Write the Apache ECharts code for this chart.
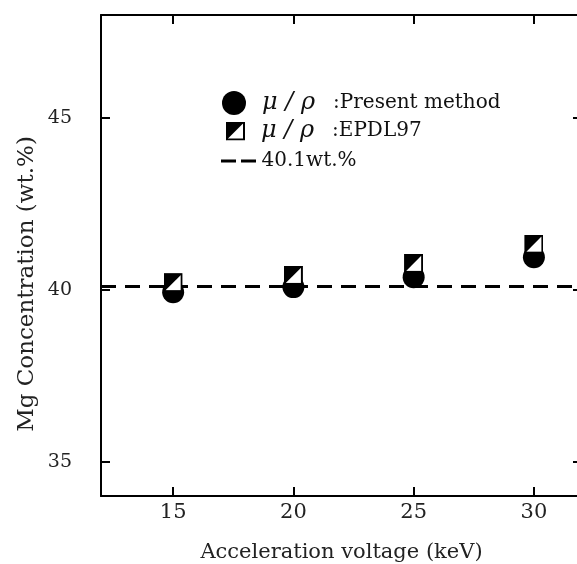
<!DOCTYPE html>
<html>
<head>
<meta charset="utf-8">
<script src="https://cdn.jsdelivr.net/npm/echarts@6/dist/echarts.min.js"></script>
<style>
html,body{margin:0;padding:0;background:#fff;}
#chart{width:577px;height:564px;}
</style>
</head>
<body>
<div id="chart"></div>
<script>
// ---- data ----
var voltages = [15, 20, 25, 30];
var presentMethod = [39.93, 40.08, 40.37, 40.95];
var epdl97 = [40.21, 40.42, 40.77, 41.33];
var refLevel = 40.1;
var refRange = [12, 32];
var xTicks = [15, 20, 25, 30];
var yTicks = [35, 40, 45];
var seriesNames = ['μ / ρ :Present method', 'μ / ρ :EPDL97', '40.1wt.%'];
var xTitle = 'Acceleration voltage (keV)';
var yTitle = 'Mg Concentration (wt.%)';

var FONT = 'DejaVu Serif';
var halfSquareSvg = "<svg xmlns='http://www.w3.org/2000/svg' width='19' height='19' viewBox='0 0 19 19'>" +
  "<rect x='1' y='1' width='17' height='17' fill='white' stroke='black' stroke-width='2'/>" +
  "<path d='M0 0 H19 L0 19 Z' fill='black'/></svg>";
var halfSquare = 'image://data:image/svg+xml;charset=utf-8,' + encodeURIComponent(halfSquareSvg);
var dashIcon = 'path://M0,0 H15 V3 H0 Z M20,0 H35 V3 H20 Z';

function pairs(xs, ys) { return xs.map(function (x, i) { return [x, ys[i]]; }); }

var rich = {
  g: { width: 11 },
  m: { fontFamily: FONT, fontStyle: 'italic', fontSize: 24, color: '#111', lineHeight: 26 },
  s: { width: 18 },
  t: { fontFamily: FONT, fontSize: 20, color: '#111', lineHeight: 26 },
  u: { fontFamily: FONT, fontSize: 20, color: '#111', lineHeight: 24 }
};
function legendFmt(name) {
  var i = name.indexOf(':');
  if (i < 0) return '{u|' + name + '}';
  return '{g| }{m|' + name.slice(0, i).trim() + '}{s| }{t|' + name.slice(i) + '}';
}

function tickStyle(vals) { return { show: true, inside: true, length: 9, customValues: vals, lineStyle: { color: '#000', width: 2 } }; }
function lineStyleAxis(show) { return { show: show, onZero: false, lineStyle: { color: '#000', width: 2 } }; }

var chart = echarts.init(document.getElementById('chart'));
chart.setOption({
  animation: false,
  backgroundColor: '#fff',
  grid: { left: 101, top: 15, width: 481, height: 481, containLabel: false, outerBoundsMode: 'none' },
  xAxis: [{
    type: 'value', min: 12, max: 32, position: 'bottom',
    axisLine: lineStyleAxis(true),
    axisTick: tickStyle(xTicks),
    axisLabel: { customValues: xTicks, margin: 6, fontFamily: FONT, fontSize: 21, color: '#222' },
    splitLine: { show: false },
    name: xTitle, nameLocation: 'middle', nameGap: 46,
    nameTextStyle: { fontFamily: FONT, fontSize: 21, color: '#222' }
  }, {
    type: 'value', min: 12, max: 32, position: 'top',
    axisLine: lineStyleAxis(true),
    axisTick: tickStyle(xTicks),
    axisLabel: { show: false }, splitLine: { show: false }
  }],
  yAxis: [{
    type: 'value', min: 34, max: 48, position: 'left',
    axisLine: lineStyleAxis(true),
    axisTick: tickStyle(yTicks),
    axisLabel: { customValues: yTicks, margin: 29, fontFamily: FONT, fontSize: 19, color: '#222' },
    splitLine: { show: false }
  }, {
    type: 'value', min: 34, max: 48, position: 'right',
    axisLine: lineStyleAxis(false),
    axisTick: tickStyle(yTicks),
    axisLabel: { show: false }, splitLine: { show: false }
  }],
  legend: [{
    data: [seriesNames[0]], orient: 'vertical', left: 217, top: 86,
    itemWidth: 24, itemHeight: 24, formatter: legendFmt, textStyle: { rich: rich }
  }, {
    data: [seriesNames[1]], orient: 'vertical', left: 221, top: 114,
    itemWidth: 19, itemHeight: 19, formatter: legendFmt, textStyle: { rich: rich }
  }, {
    data: [{ name: seriesNames[2], icon: dashIcon, itemStyle: { color: '#000' } }],
    orient: 'vertical', left: 216, top: 146,
    itemWidth: 36, itemHeight: 3, formatter: legendFmt, textStyle: { rich: rich }
  }],
  graphic: [{
    type: 'text', x: 27, y: 284, rotation: Math.PI / 2,
    style: { text: yTitle, fontFamily: FONT, fontSize: 23, fill: '#222', align: 'center', verticalAlign: 'middle' }
  }],
  series: [{
    name: seriesNames[2], type: 'line', xAxisIndex: 0, yAxisIndex: 0, z: 1,
    data: pairs(refRange, [refLevel, refLevel]),
    symbol: 'none', showSymbol: false,
    lineStyle: { color: '#000', width: 3, type: [15, 9] },
    itemStyle: { color: '#000' }
  }, {
    name: seriesNames[0], type: 'scatter', z: 2,
    data: pairs(voltages, presentMethod),
    symbol: 'circle', symbolSize: 22,
    itemStyle: { color: '#000', opacity: 1 }
  }, {
    name: seriesNames[1], type: 'scatter', z: 3,
    data: pairs(voltages, epdl97),
    symbol: halfSquare, symbolSize: 19,
    itemStyle: { color: '#000', opacity: 1 }
  }]
});
</script>
</body>
</html>
